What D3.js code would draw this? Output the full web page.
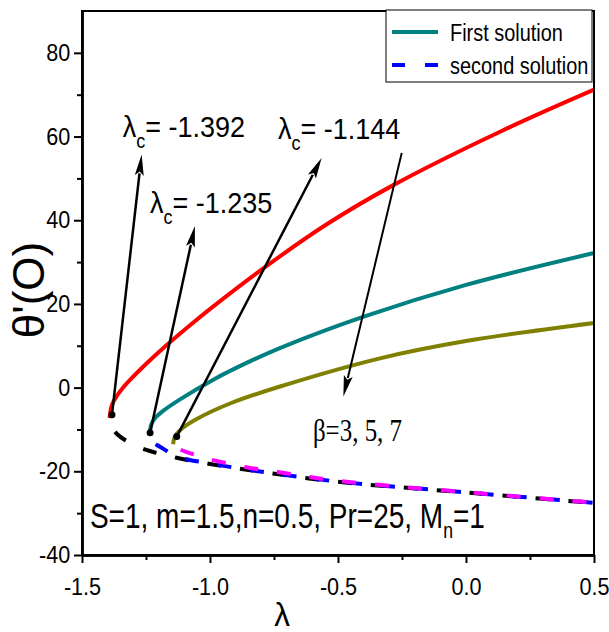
<!DOCTYPE html>
<html lang="en">
<head>
<meta charset="UTF-8">
<title>theta'(0) vs lambda</title>
<script src="https://d3js.org/d3.v7.min.js"></script>
<style>
  body { margin: 0; background: #fff; }
  text { fill: #000; }
</style>
</head>
<body>
<div id="chart"></div>
<script>
// upper branch (first solution), beta = 3, 5, 7
const lamB3 = [-1.392, -1.388, -1.380, -1.364, -1.344, -1.3125, -1.247, -1.169, -1.078, -0.987, -0.792, -0.544, -0.284, 0.133, 0.5];
const thB3  = [-7.26, -5.35, -3.68, -2.0, -0.33, 1.82, 5.82, 10.19, 14.92, 19.42, 28.49, 39.03, 48.39, 61.15, 71.2];
const lamB5 = [-1.235, -1.233, -1.228, -1.215, -1.182, -1.117, -0.987, -0.857, -0.727, -0.402, 0.0, 0.5];
const thB5  = [-10.84, -9.7, -8.6, -7.3, -5.5, -2.8, 1.9, 5.9, 9.45, 16.9, 24.55, 32.16];
const lamB7 = [-1.144, -1.1406, -1.1309, -1.1094, -1.0519, -0.9219, -0.7266, -0.3359, 0.0, 0.5];
const thB7  = [-13.52, -12.33, -11.13, -9.77, -7.50, -3.80, 0.26, 7.00, 11.13, 15.44];

// lower branch (second solution)
const lamL3 = [-1.392, -1.3895, -1.3809, -1.3633, -1.332, -1.2734, -1.2344, -1.1301, -1.0, -0.8699, -0.7395, -0.5, 0.0, 0.5];
const thL3  = [-7.26, -8.46, -9.77, -11.08, -12.52, -14.31, -15.15, -16.77, -18.26, -19.52, -20.65, -22.51, -25.07, -27.57];
const lamL5 = [-1.235, -1.2332, -1.2246, -1.207, -1.1875, -1.1301, -1.0, -0.8699, -0.7395, -0.5, 0.0, 0.5];
const thL5  = [-10.84, -11.80, -12.88, -13.71, -14.43, -16.46, -18.14, -19.45, -20.60, -22.46, -25.04, -27.53];
const lamL7 = [-1.144, -1.1367, -1.1172, -1.091, -1.0129, -0.8633, -0.7344, -0.5, 0.0, 0.5];
const thL7  = [-13.52, -14.24, -14.79, -15.39, -16.94, -18.97, -20.17, -22.27, -24.99, -27.50];

const xTicks = [-1.5, -1.0, -0.5, 0.0, 0.5];
const xMinor = [-1.25, -0.75, -0.25, 0.25];
const yTicks = [-40, -20, 0, 20, 40, 60, 80];
const yMinor = [-30, -10, 10, 30, 50, 70];

const legendLabels = ["First solution", "second solution"];
const critLabels = ["= -1.392", "= -1.235", "= -1.144"];
const critAt = [[-1.341, 60.0], [-1.234, 41.8], [-0.734, 59.5]];
// arrows: tail -> head, in data units
const arrows = [
  [[-1.383, -6.5], [-1.267, 55.7]],
  [[-1.234, -10.8], [-1.059, 38.6]],
  [[-1.130, -11.7], [-0.564, 54.9]],
  [[-0.251, 56.1], [-0.479, -2.1]]
];

const W = 609, H = 632;
const sans = "'Liberation Sans', Arial, sans-serif";
const serif = "'Liberation Serif', 'Times New Roman', serif";

const svg = d3.select("#chart").append("svg")
  .attr("width", W).attr("height", H)
  .style("font-family", sans);

const x = d3.scaleLinear().domain([-1.5, 0.5]).range([82, 594]);
const y = d3.scaleLinear().domain([-40, 90]).range([555, 11]);

const line = d3.line().x(d => x(d[0])).y(d => y(d[1])).curve(d3.curveCatmullRom.alpha(0.5));
const zip = (a, b) => a.map((v, i) => [v, b[i]]);

// lower branches, dashed; dash phase lined up where they run together
const lower = [
  { d: zip(lamL3, thL3), c: "#000000", shift: 0 },
  { d: zip(lamL5, thL5), c: "#0000ff", shift: 10 },
  { d: zip(lamL7, thL7), c: "#ff00ff", shift: 4 }
];
const period = 33;
lower.forEach(s => {
  const p = svg.append("path").attr("d", line(s.d))
    .attr("fill", "none").attr("stroke", s.c).attr("stroke-width", 4)
    .attr("stroke-dasharray", "14,19");
  const node = p.node();
  const total = node.getTotalLength();
  const tx = x(-0.5);
  let L = 0;
  while (L < total && node.getPointAtLength(L).x < tx) L += 0.25;
  p.attr("stroke-dashoffset", (period - s.shift - L % period + 2 * period) % period);
});

const upper = [
  { d: zip(lamB3, thB3), c: "#ff0000" },
  { d: zip(lamB5, thB5), c: "#008080" },
  { d: zip(lamB7, thB7), c: "#808000" }
];
upper.forEach(s => {
  svg.append("path").attr("d", line(s.d))
    .attr("fill", "none").attr("stroke", s.c).attr("stroke-width", 4);
});

// frame
svg.append("rect").attr("x", 82).attr("y", 11).attr("width", 512).attr("height", 544)
  .attr("fill", "none").attr("stroke", "#000").attr("stroke-width", 2);

// axes
svg.append("g").attr("transform", "translate(82,0)")
  .call(d3.axisLeft(y).tickValues(yTicks).tickSize(8).tickSizeOuter(0).tickPadding(5).tickFormat(d => String(d)));
svg.append("g").attr("transform", "translate(82,0)")
  .call(d3.axisLeft(y).tickValues(yMinor).tickSize(5).tickSizeOuter(0).tickFormat(""));
svg.append("g").attr("transform", "translate(0,555)")
  .call(d3.axisBottom(x).tickValues(xTicks).tickSize(8).tickSizeOuter(0).tickPadding(15).tickFormat(d => d.toFixed(1)));
svg.append("g").attr("transform", "translate(0,555)")
  .call(d3.axisBottom(x).tickValues(xMinor).tickSize(5).tickSizeOuter(0).tickFormat(""));

svg.selectAll(".domain").attr("stroke-width", 2.5);
svg.selectAll(".tick line").attr("stroke-width", 2);
svg.selectAll(".tick text").attr("font-size", 24).attr("font-family", sans)
  .attr("transform", "scale(0.9,1)");

// axis titles
svg.append("text").attr("transform", "translate(282,626) scale(0.95,1)")
  .attr("text-anchor", "middle").attr("font-size", 33).text("λ");
svg.append("text").attr("transform", "translate(44,290) rotate(-90)")
  .attr("text-anchor", "middle").attr("font-size", 44).text("θ'(O)");

// arrows
const arrowG = svg.append("g");
arrows.forEach((a, i) => {
  const x1 = x(a[0][0]), y1 = y(a[0][1]), x2 = x(a[1][0]), y2 = y(a[1][1]);
  const dx = x2 - x1, dy = y2 - y1, len = Math.hypot(dx, dy);
  const ux = dx / len, uy = dy / len;
  const hl = 21, hw = 4.5;
  const bx = x2 - ux * hl, by = y2 - uy * hl;
  arrowG.append("line").attr("x1", x1).attr("y1", y1).attr("x2", bx + ux * 2).attr("y2", by + uy * 2)
    .attr("stroke", "#000").attr("stroke-width", i === 3 ? 2 : 2.5);
  arrowG.append("polygon")
    .attr("points", [[x2, y2], [bx - uy * hw, by + ux * hw], [bx + ux * 4, by + uy * 4], [bx + uy * hw, by - ux * hw]].map(p => p.join(",")).join(" "))
    .attr("fill", "#000");
  if (i < 3) arrowG.append("circle").attr("cx", x1).attr("cy", y1).attr("r", 3.5).attr("fill", "#000");
});

// lambda_c labels
critLabels.forEach((t, i) => {
  const tx = svg.append("text")
    .attr("transform", `translate(${x(critAt[i][0])},${y(critAt[i][1])}) scale(0.9,1)`)
    .attr("font-size", 30);
  tx.append("tspan").text("λ");
  tx.append("tspan").attr("font-size", 20).attr("dy", 11).text("c");
  tx.append("tspan").attr("dy", -11).text(t);
});

// beta label
svg.append("text")
  .attr("transform", `translate(${x(-0.598)},${y(-12.8)}) scale(0.78,1)`)
  .style("font-family", serif).attr("font-size", 32)
  .text("β=3, 5, 7");

// parameter label
const pt = svg.append("text")
  .attr("transform", `translate(${x(-1.469)},${y(-33.5)}) scale(0.8,1)`)
  .attr("font-size", 35);
pt.append("tspan").text("S=1, m=1.5,n=0.5, Pr=25, M");
pt.append("tspan").attr("font-size", 22).attr("dy", 10).text("n");
pt.append("tspan").attr("dy", -10).text("=1");

// legend
const lg = svg.append("g");
lg.append("rect").attr("x", 386).attr("y", 10).attr("width", 206).attr("height", 72)
  .attr("fill", "#fff").attr("stroke", "#000").attr("stroke-width", 1);
lg.append("line").attr("x1", 392).attr("x2", 438).attr("y1", 32).attr("y2", 32)
  .attr("stroke", "#008080").attr("stroke-width", 4);
lg.append("line").attr("x1", 392).attr("x2", 438).attr("y1", 65).attr("y2", 65)
  .attr("stroke", "#0000ff").attr("stroke-width", 4).attr("stroke-dasharray", "13,20");
legendLabels.forEach((t, i) => {
  lg.append("text").attr("transform", `translate(450,${41 + i * 33}) scale(0.83,1)`)
    .attr("font-size", 24).text(t);
});
</script>
</body>
</html>
